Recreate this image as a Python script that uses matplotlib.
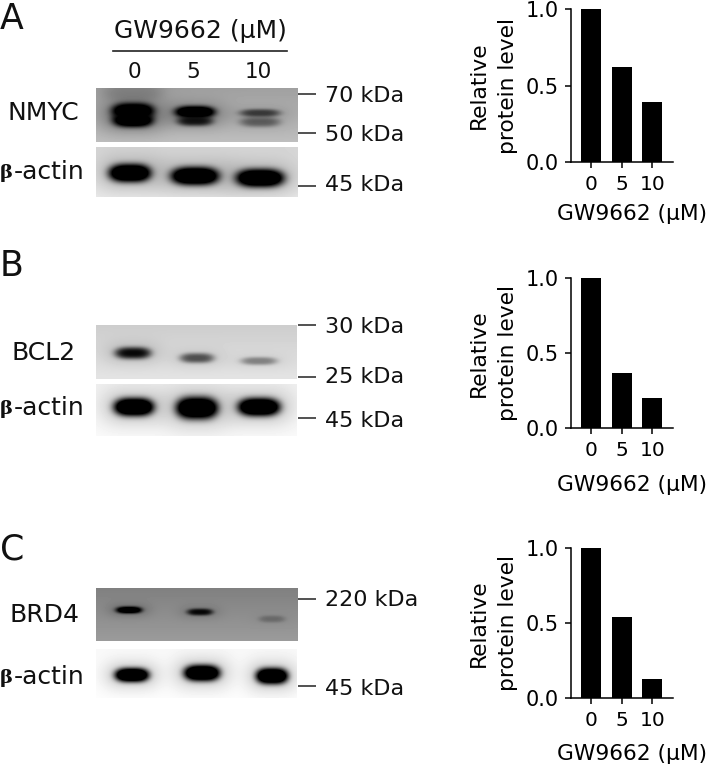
import numpy as np
import matplotlib as mpl
mpl.use('Agg')
import matplotlib.pyplot as plt

W, H = 711, 766
plt.rcParams['font.family'] = ['DejaVu Sans']
plt.rcParams['text.color'] = '#111111'

doses = ['0', '5', '10']
nmyc = [1.0, 0.62, 0.39]
bcl2 = [1.0, 0.37, 0.20]
brd4 = [1.0, 0.54, 0.13]

# blots: background grey top/bottom, then bands (x, y, half width, half height, darkness)
nmyc_bg = [160, 190]
nmyc_bands = [(133, 111, 21, 8, 1.0), (133, 120, 20, 7, 1.0), (133, 92, 30, 10, 0.1),
              (195, 112, 20, 6, 1.0), (195, 121, 18, 5, 0.55),
              (260, 113, 20, 4, 0.4), (260, 122, 20, 5, 0.28)]
actin_a_bg = [214, 234]
actin_a_bands = [(130, 173, 21, 9, 1.0), (195, 176, 24, 9, 1.0), (260, 178, 24, 9, 1.0)]
bcl2_bg = [205, 228]
bcl2_bands = [(133, 353, 18, 6, 0.6), (197, 358, 17, 5, 0.38), (259, 361, 18, 4, 0.24)]
actin_b_bg = [240, 250]
actin_b_bands = [(134, 407, 20, 9, 1.0), (197, 408, 21, 11, 1.0), (259, 407, 21, 9, 1.0)]
brd4_bg = [128, 155]
brd4_bands = [(129, 610, 13, 3.5, 0.9), (200, 612, 13, 3.5, 0.6), (272, 619, 13, 3.5, 0.15)]
actin_c_bg = [249, 253]
actin_c_bands = [(132, 675, 17, 7, 1.0), (202, 673, 18, 8, 1.0), (272, 676, 16, 8, 1.0)]

ticks_y = [94, 133, 186, 325, 377, 418, 599, 686]
kda_y = [96, 135, 185, 327, 377, 421, 600, 689]
kda = ['70 kDa', '50 kDa', '45 kDa', '30 kDa', '25 kDa', '45 kDa', '220 kDa', '45 kDa']

fig = plt.figure(figsize=(W / 100, H / 100), dpi=100)
bg = fig.add_axes([0, 0, 1, 1])
bg.axis('off')


def blot(x0, x1, y0, y1, shades, bands):
    xx, yy = np.meshgrid(np.arange(x0, x1) + 0.5, np.arange(y0, y1) + 0.5)
    img = shades[0] + (shades[1] - shades[0]) * (yy - y0) / (y1 - y0)
    for x, y, w, h, d in bands:
        r = np.abs((xx - x) / w) ** 3 + ((yy - y) / h) ** 2
        core = np.clip(d * 1.6 * np.exp(-r ** 1.5), 0, 1)
        halo = 0.22 * d * np.exp(-r / 4)
        img = img * (1 - core) * (1 - halo)
    bg.imshow(img, cmap='gray', vmin=0, vmax=255, extent=(x0, x1, y1, y0),
              interpolation='bilinear', aspect='auto', zorder=1)


def actin(y):
    bg.text(0, y + 1, 'β', fontsize=14, family='DejaVu Serif', weight='bold', va='center', ha='left')
    bg.text(14, y, '-actin', fontsize=18, va='center', ha='left')


blot(96, 298, 88, 142, nmyc_bg, nmyc_bands)
blot(96, 298, 147, 197, actin_a_bg, actin_a_bands)
blot(96, 297, 325, 379, bcl2_bg, bcl2_bands)
blot(96, 297, 384, 436, actin_b_bg, actin_b_bands)
blot(96, 298, 588, 641, brd4_bg, brd4_bands)
blot(96, 297, 649, 698, actin_c_bg, actin_c_bands)
bg.set_xlim(0, W)
bg.set_ylim(H, 0)

for i in range(len(kda)):
    bg.plot([298, 316], [ticks_y[i], ticks_y[i]], color='#222222', lw=1.1, solid_capstyle='butt', zorder=2)
    bg.text(325, kda_y[i], kda[i], fontsize=16, va='center', ha='left')

for y, t in [(19, 'A'), (266, 'B'), (550, 'C')]:
    bg.text(0, y, t, fontsize=25, va='center', ha='left')
bg.text(200, 31, 'GW9662 (µM)', fontsize=18, va='center', ha='center')
bg.plot([113, 287], [51, 51], color='#222222', lw=1.2)
for x, t in [(134, '0'), (193, '5'), (258, '10')]:
    bg.text(x, 72, t, fontsize=15.5, va='center', ha='center')
bg.text(7, 113, 'NMYC', fontsize=18, va='center', ha='left')
bg.text(12, 353, 'BCL2', fontsize=18, va='center', ha='left')
bg.text(9, 615, 'BRD4', fontsize=18, va='center', ha='left')
actin(172)
actin(408)
actin(677)


def bars(vals, top, bottom, pad):
    # axes spans from the y spine at 571 to the end of the x axis at 673
    ax = fig.add_axes([571 / W, 1 - bottom / H, (673 - 571) / W, (bottom - top) / H])
    ax.patch.set_alpha(0)
    ax.bar([0, 1, 2], vals, width=0.65, color='black')
    ax.set_xlim(-0.65, 2.67)
    ax.set_ylim(0, 1)
    ax.set_xticks([0, 1, 2], doses)
    ax.set_yticks([0, 0.5, 1.0], ['0.0', '0.5', '1.0'])
    ax.spines['top'].set_visible(False)
    ax.spines['right'].set_visible(False)
    for s in ['left', 'bottom']:
        ax.spines[s].set_linewidth(1.1)
    ax.tick_params(length=4.5, width=1.1, pad=4)
    ax.tick_params(axis='y', labelsize=15)
    ax.tick_params(axis='x', labelsize=14.5, pad=5)
    ax.set_ylabel('Relative\nprotein level', fontsize=15.7, labelpad=6, linespacing=1.55)
    ax.set_xlabel('GW9662 (µM)', fontsize=15.7, labelpad=pad, x=0.6)
    return ax


bars(nmyc, 9, 162, 7)
bars(bcl2, 278, 428, 11)
bars(brd4, 548, 698, 10)

fig.savefig('out.png', dpi=100)
